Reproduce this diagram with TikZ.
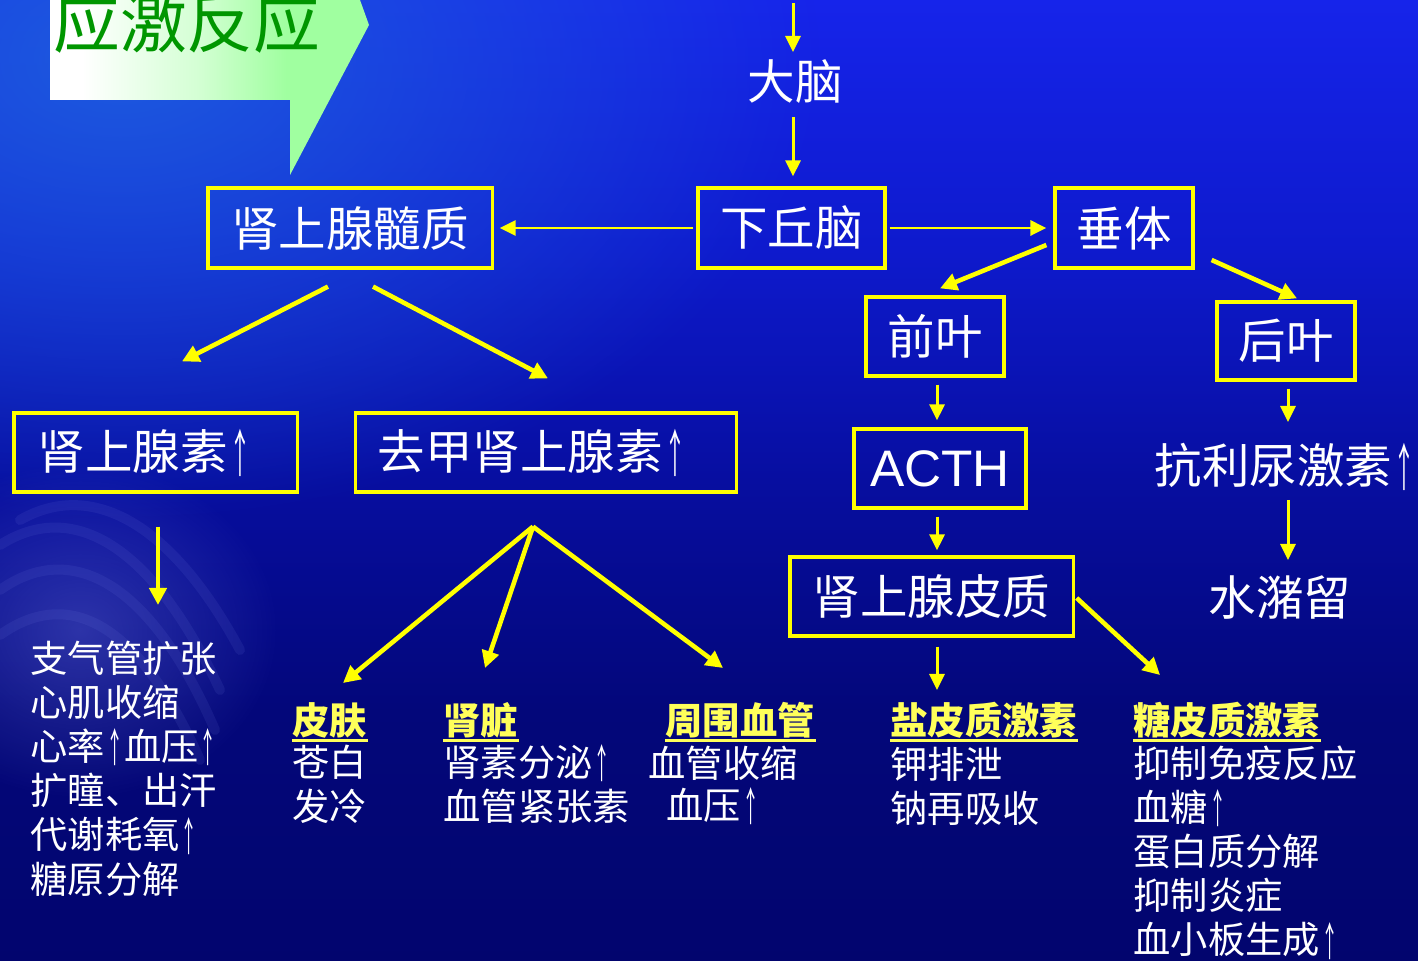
\documentclass[tikz,border=0pt]{standalone}
\usepackage{graphicx}
\usepackage{fontspec}
\setmainfont{Noto Sans CJK SC}
\newfontfamily\latinsans{Liberation Sans}
\usetikzlibrary{arrows.meta,calc,fadings}
\tikzfading[name=softout, inner color=transparent!0, outer color=transparent!100]
\definecolor{ylw}{RGB}{255,255,0}
\definecolor{hdrc}{RGB}{255,255,90}
\definecolor{ttlc}{RGB}{0,150,0}
\definecolor{bgtop}{RGB}{22,36,234}
\definecolor{bgupper}{RGB}{14,26,205}
\definecolor{bgmid}{RGB}{7,14,160}
\definecolor{bglow}{RGB}{3,7,122}
\definecolor{bgbot}{RGB}{2,5,110}
\definecolor{glowc}{RGB}{30,96,222}
\definecolor{swirlc}{RGB}{120,130,230}
\definecolor{grnc}{RGB}{160,255,160}
\pgfdeclareverticalshading{bgshade}{100bp}{color(0bp)=(bgbot); color(25bp)=(bgbot); color(38bp)=(bglow); color(50bp)=(bgmid); color(62bp)=(bgupper); color(75bp)=(bgtop); color(100bp)=(bgtop)}
\pgfdeclarehorizontalshading{tshade}{100bp}{color(0bp)=(white); color(30bp)=(white); color(48bp)=(grnc!45!white); color(62bp)=(grnc); color(100bp)=(grnc)}
\newcommand\myBig{\fontsize{13.5}{16}\selectfont}
\newcommand\mySmall{\fontsize{10.6}{12.55}\selectfont}
\newcommand\up{\hspace{0.03em}\raisebox{-0.06em}{\scalebox{0.46}[1.08]{↑}}\hspace{0.02em}}
\begin{document}
\begin{tikzpicture}[x=0.01cm,y=-0.01cm,
  box/.style={draw=ylw, line width=0.9pt, inner sep=0pt, text=white, font=\myBig},
  lbl/.style={text=white, inner sep=0pt, font=\myBig},
  itm/.style={text=white, inner sep=0pt, align=left, anchor=west, font=\mySmall},
  hd/.style={text=hdrc, inner sep=0pt, anchor=west, font=\mySmall\bfseries},
  ul/.style={draw=hdrc, line width=0.85pt},
  arr/.style={draw=ylw, line width=0.85pt, -{Triangle[length=1.6mm,width=1.5mm]}},
  tarr/.style={draw=ylw, line width=1.3pt, -{Triangle[length=1.7mm,width=1.7mm]}},
  streak/.style={draw=swirlc, line width=0.1cm, opacity=0.11, line cap=round}
]
\useasboundingbox (0,0) rectangle (1418,961);
% background
\shade[shading=bgshade] (0,0) rectangle (1418,961);
\fill[glowc, path fading=softout, opacity=0.9] (120,60) ellipse [x radius=7cm, y radius=4.6cm];
\fill[swirlc, path fading=softout, opacity=0.35] (80,630) ellipse [x radius=2cm, y radius=1.7cm];
\draw[streak] (0,545) .. controls (70,500) and (150,540) .. (220,690);
\draw[streak] (0,590) .. controls (70,540) and (150,580) .. (215,730);
\draw[streak] (0,635) .. controls (70,585) and (140,625) .. (200,760);
\draw[streak] (20,520) .. controls (90,480) and (170,520) .. (240,650);

% title arrow
\shade[shading=tshade] (50,0) -- (360,0) -- (369,25) -- (290,175) -- (290,100) -- (50,100) -- cycle;
\node[text=ttlc, inner sep=0pt, font=\fontsize{19}{20}\selectfont] (title) at (187,22) {应激反应};

% main nodes
\node[lbl] (dn) at (795,82) {大脑};
\coordinate (topin) at (793,3);
\node[box, minimum width=1.87cm, minimum height=0.8cm] (xqn) at (791.5,228) {下丘脑};
\node[box, minimum width=2.84cm, minimum height=0.8cm] (sxsz) at (350,228) {肾上腺髓质};
\node[box, minimum width=1.38cm, minimum height=0.8cm] (ct) at (1124,228) {垂体};
\node[box, minimum width=1.38cm, minimum height=0.79cm] (qy) at (935,336.5) {前叶};
\node[box, minimum width=1.38cm, minimum height=0.78cm] (hy) at (1286,341) {后叶};
\node[box, minimum width=1.72cm, minimum height=0.79cm, font=\latinsans\fontsize{14.6}{16}\selectfont] (acth) at (940,468.5) {ACTH};
\node[box, minimum width=2.83cm, minimum height=0.79cm] (sxpz) at (931.5,596.5) {肾上腺皮质};
\node[lbl] (kln) at (1285,467) {抗利尿激素\up{}};
\node[lbl] (szl) at (1280,598) {水潴留};
\node[box, minimum width=2.83cm, minimum height=0.79cm] (sxs) at (155.5,452.5) {\makebox[2.35cm][l]{肾上腺素\up{}}};
\node[box, minimum width=3.8cm, minimum height=0.79cm] (qj) at (546,452.5) {\makebox[3.36cm][l]{去甲肾上腺素\up{}}};

% left list
\node[itm] (lst1) at (30,768.5) {支气管扩张\\心肌收缩\\心率\up{}血压\up{}\\扩瞳、出汗\\代谢耗氧\up{}\\糖原分解};

% headers
\node[hd] (pfh) at (292,720) {皮肤};
\node[hd] (szh) at (443,720) {肾脏};
\node[hd] (zwh) at (665,720) {周围血管};
\node[hd] (yanh) at (890,720) {盐皮质激素};
\node[hd] (tangh) at (1133,720) {糖皮质激素};
\foreach \h in {pfh,szh,zwh,yanh,tangh}{
  \draw[ul] ($(\h.south west)+(0,2)$) -- ($(\h.south east)+(0,2)$);
}

% item lists
\node[itm] (pfl) at (292,784.5) {苍白\\发冷};
\node[itm] (szl2) at (443,784.5) {肾素分泌\up{}\\血管紧张素};
\node[itm] (zw1) at (648,763) {血管收缩};
\node[itm] (zw2) at (666,806) {血压\up{}};
\node[itm] (yanl) at (890,786.5) {钾排泄\\钠再吸收};
\node[itm] (tangl) at (1133,852.5) {抑制免疫反应\\血糖\up{}\\蛋白质分解\\抑制炎症\\血小板生成\up{}};

% connectors
\draw[arr] (topin) -- ($(dn)+(-2,-30)$);
\draw[arr] ($(dn)+(-2,35)$) -- ($(xqn.north)+(1.5,-10)$);
\draw[arr] ($(xqn.west)+(-3,0)$) -- ($(sxsz.east)+(6,0)$);
\draw[arr] ($(xqn.east)+(3,0)$) -- ($(ct.west)+(-7,0)$);
\draw[tarr] ($(ct.west)+(-7,17)$) -- ($(qy.north)+(5,-7)$);
\draw[tarr] ($(ct.east)+(17,32)$) -- ($(hy.north)+(11,-2)$);
\draw[arr] ($(qy.south)+(2,7)$) -- ($(acth.north)+(-3,-7)$);
\draw[arr] ($(acth.south)+(-3,7)$) -- ($(sxpz.north)+(5.5,-5)$);
\draw[arr] ($(hy.south)+(2,7)$) -- ($(kln)+(3,-45)$);
\draw[arr] ($(kln)+(3,33)$) -- ($(szl)+(8,-38)$);
\draw[arr] ($(sxpz.south)+(5.5,9)$) -- ($(yanh.west)+(47,-30)$);
\draw[tarr] ($(sxpz.east)+(2,1.5)$) -- ($(tangh.west)+(27,-45)$);
\draw[tarr] ($(sxsz.south)+(-22,17)$) -- ($(sxs.north)+(26.5,-50)$);
\draw[tarr] ($(sxsz.south)+(23,17)$) -- ($(qj.north)+(2,-33)$);
\draw[tarr] ($(sxs.south)+(2.5,33)$) -- ($(lst1.west)+(128,-163.5)$);
\coordinate (qjs) at ($(qj.south)+(-13,33)$);
\draw[tarr] (qjs) -- ($(pfh.west)+(51,-37)$);
\draw[tarr] (qjs) -- ($(szh.west)+(42,-52)$);
\draw[tarr] (qjs) -- ($(zwh.west)+(58,-52)$);
\end{tikzpicture}
\end{document}
